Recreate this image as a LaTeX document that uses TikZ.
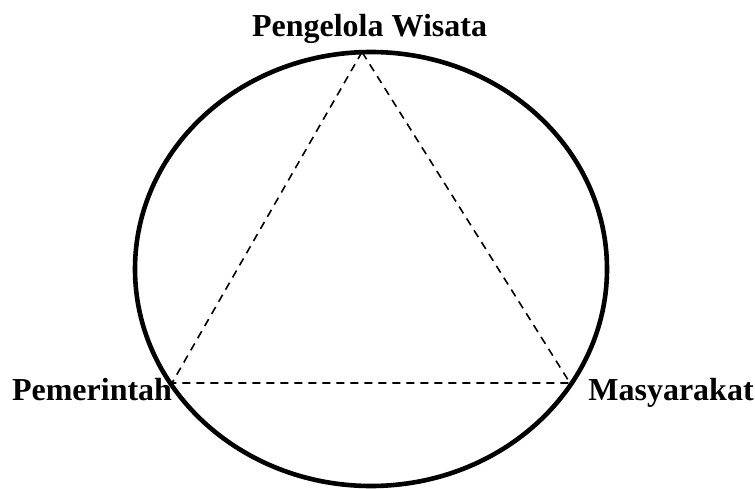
\documentclass[tikz,border=0pt]{standalone}
\usepackage{fontspec}
\setmainfont{Liberation Serif}
\begin{document}
\begin{tikzpicture}[x=1pt,y=1pt]
            \useasboundingbox (0,0) rectangle (755,488);
            \tikzset{
                label text/.style = {font=\fontsize{32}{36}\selectfont\bfseries, inner sep=0pt, anchor=base},
                link/.style = {dash pattern=on 8pt off 6pt, line width=1.6pt}
            }
            \draw[line width=4.6pt] (371,219) ellipse [x radius=236, y radius=217];
            \coordinate (top) at (362,436);
            \coordinate (left) at (172,105);
            \coordinate (right) at (570,105);
            \draw[link] (top) -- (left) -- (right) -- cycle;
            \node[label text] (pengelola) at (369.5,451) {Pengelola Wisata};
            \node[label text] (pemerintah) at (92,88) {Pemerintah};
            \node[label text] (masyarakat) at (671,88) {Masyarakat};
        \end{tikzpicture}
\end{document}
